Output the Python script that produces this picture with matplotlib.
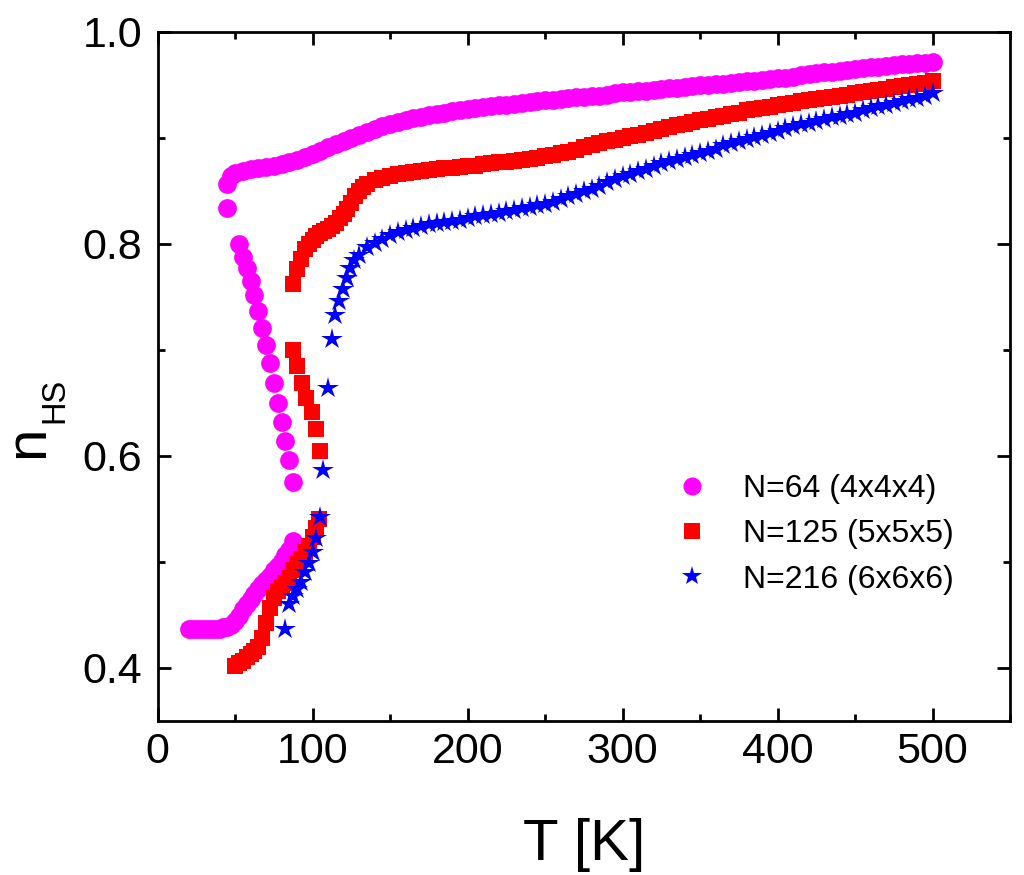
import matplotlib
matplotlib.use("Agg")
import matplotlib.pyplot as plt
from matplotlib.ticker import MultipleLocator, FormatStrFormatter

plt.rcParams['font.family'] = ['Liberation Sans', 'DejaVu Sans']

# ---------------- data ----------------
labels = ["N=64 (4x4x4)", "N=125 (5x5x5)", "N=216 (6x6x6)"]

# N=64
t64 = [20, 22.5, 25, 27.5, 30, 32.5, 35, 37.5, 40, 42.5, 45, 47.5, 50, 52.5, 55, 57.5,
       60, 62.5, 65, 67.5, 70, 72.5, 75, 77.5, 80, 82.5, 85, 87.5,
       45, 45, 52.5, 55, 57.5, 60, 62.5, 65, 67.5, 70, 72.5, 75, 77.5, 80, 82.5, 85, 87.5,
       47.5, 50, 55, 60, 65, 70, 75, 80, 85, 90, 95, 100, 105, 110, 115, 120, 125, 130,
       135, 140, 145, 150, 155, 160, 165, 170, 175, 180, 185, 190, 195, 200, 205, 210,
       215, 220, 225, 230, 235, 240, 245, 250, 255, 260, 265, 270, 275, 280, 285, 290,
       295, 300, 305, 310, 315, 320, 325, 330, 335, 340, 345, 350, 355, 360, 365, 370,
       375, 380, 385, 390, 395, 400, 405, 410, 415, 420, 425, 430, 435, 440, 445, 450,
       455, 460, 465, 470, 475, 480, 485, 490, 495, 500]
n64 = [0.437, 0.437, 0.437, 0.437, 0.437, 0.437, 0.437, 0.437, 0.437, 0.438, 0.438, 0.440,
       0.444, 0.449, 0.455, 0.460, 0.465, 0.470, 0.474, 0.479, 0.483, 0.487, 0.492, 0.496,
       0.501, 0.506, 0.511, 0.520,
       0.857, 0.834, 0.800, 0.788, 0.777, 0.765, 0.752, 0.737, 0.721, 0.705, 0.688, 0.669,
       0.650, 0.632, 0.614, 0.596, 0.575,
       0.864, 0.867, 0.869, 0.871, 0.872, 0.873, 0.874, 0.875, 0.877, 0.879, 0.882, 0.885,
       0.888, 0.891, 0.894, 0.897, 0.900, 0.903, 0.906, 0.908, 0.911, 0.913, 0.915, 0.917,
       0.919, 0.920, 0.922, 0.923, 0.924, 0.925, 0.926, 0.927, 0.928, 0.929, 0.930, 0.931,
       0.931, 0.932, 0.933, 0.934, 0.935, 0.936, 0.936, 0.937, 0.938, 0.939, 0.939, 0.940,
       0.940, 0.941, 0.942, 0.943, 0.943, 0.944, 0.944, 0.945, 0.946, 0.947, 0.947, 0.948,
       0.949, 0.950, 0.950, 0.951, 0.951, 0.952, 0.953, 0.954, 0.954, 0.955, 0.956, 0.957,
       0.957, 0.958, 0.959, 0.960, 0.961, 0.962, 0.962, 0.963, 0.964, 0.965, 0.966, 0.967,
       0.967, 0.968, 0.969, 0.970, 0.970, 0.971, 0.971, 0.972]

# N=125
t125 = [50, 52.5, 55, 57.5, 60, 62.5, 65, 67.5, 70, 72.5, 75, 77.5, 80, 82.5, 85, 87.5,
        90, 92.5, 95, 97.5, 100, 102.5, 104,
        87.5, 87.5, 90, 93, 96, 99.5, 102, 105,
        90, 92.5, 95, 97.5, 100, 102.5, 105, 107.5, 110, 112.5, 115, 117.5, 120, 122.5,
        125, 127.5, 130, 132.5, 135, 140, 145, 150, 155, 160, 165, 170, 175, 180, 185,
        190, 195, 200, 205, 210, 215, 220, 225, 230, 235, 240, 245, 250, 255, 260, 265,
        270, 275, 280, 285, 290, 295, 300, 305, 310, 315, 320, 325, 330, 335, 340, 345,
        350, 355, 360, 365, 370, 375, 380, 385, 390, 395, 400, 405, 410, 415, 420, 425,
        430, 435, 440, 445, 450, 455, 460, 465, 470, 475, 480, 485, 490, 495, 500]
n125 = [0.402, 0.404, 0.406, 0.410, 0.413, 0.416, 0.420, 0.428, 0.442, 0.456, 0.466,
        0.472, 0.476, 0.480, 0.485, 0.492, 0.498, 0.503, 0.509, 0.515, 0.523, 0.532, 0.540,
        0.762, 0.700, 0.685, 0.669, 0.655, 0.641, 0.625, 0.605,
        0.776, 0.786, 0.795, 0.800, 0.804, 0.807, 0.810, 0.812, 0.814, 0.817, 0.820, 0.824,
        0.828, 0.833, 0.839, 0.845, 0.850, 0.854, 0.857, 0.860, 0.862, 0.864, 0.866,
        0.867, 0.868, 0.869, 0.870, 0.871, 0.872, 0.872, 0.873, 0.874, 0.874, 0.875,
        0.876, 0.877, 0.877, 0.878, 0.879, 0.880, 0.881, 0.883, 0.884, 0.886, 0.887,
        0.889, 0.891, 0.893, 0.895, 0.897, 0.898, 0.900, 0.902, 0.903, 0.905, 0.907,
        0.908, 0.910, 0.912, 0.913, 0.915, 0.917, 0.918, 0.920, 0.921, 0.923, 0.924,
        0.926, 0.927, 0.928, 0.929, 0.931, 0.932, 0.933, 0.935, 0.936, 0.937, 0.938,
        0.939, 0.940, 0.941, 0.942, 0.943, 0.944, 0.945, 0.946, 0.948, 0.949, 0.950,
        0.951, 0.952, 0.954]

# N=216
t216 = [82.5, 85, 87.5, 90, 92.5, 95, 97.5, 100, 102.5, 105,
        107, 110, 112.5, 114.5, 117, 119.5, 122, 124.5, 127, 130, 135, 140, 145, 150,
        155, 160, 165, 170, 175, 180, 185, 190, 195, 200, 205, 210, 215, 220, 225, 230,
        235, 240, 245, 250, 255, 260, 265, 270, 275, 280, 285, 290, 295, 300, 305, 310,
        315, 320, 325, 330, 335, 340, 345, 350, 355, 360, 365, 370, 375, 380, 385, 390,
        395, 400, 405, 410, 415, 420, 425, 430, 435, 440, 445, 450, 455, 460, 465, 470,
        475, 480, 485, 490, 495, 500]
n216 = [0.437, 0.460, 0.468, 0.474, 0.481, 0.490, 0.499, 0.509, 0.522, 0.542,
        0.587, 0.664, 0.710, 0.733, 0.746, 0.757, 0.768, 0.777, 0.785, 0.790, 0.797,
        0.801, 0.805, 0.808, 0.811, 0.813, 0.815, 0.817, 0.819, 0.820, 0.821, 0.822,
        0.823, 0.824, 0.826, 0.827, 0.828, 0.829, 0.831, 0.832, 0.834, 0.835, 0.837,
        0.838, 0.840, 0.842, 0.845, 0.847, 0.850, 0.852, 0.855, 0.858, 0.861, 0.864,
        0.866, 0.869, 0.871, 0.874, 0.876, 0.878, 0.880, 0.882, 0.884, 0.886, 0.888,
        0.890, 0.893, 0.895, 0.897, 0.899, 0.901, 0.903, 0.905, 0.907, 0.909, 0.911,
        0.913, 0.914, 0.916, 0.918, 0.920, 0.921, 0.923, 0.924, 0.926, 0.928, 0.930,
        0.931, 0.933, 0.935, 0.937, 0.938, 0.940, 0.942]

colors = ["#FF00FF", "#FF0000", "#0000FF"]
markers = ["o", "s", "*"]
msizes = [13.5, 12, 16]

# ---------------- figure ----------------
W, H = 1024, 875
fig = plt.figure(figsize=(W / 100, H / 100), dpi=100)
ax = fig.add_axes([157.5 / W, 1 - 720.7 / H, (1010 - 157.5) / W, (720.7 - 32) / H])

series = [(t64, n64), (t125, n125), (t216, n216)]
for (t, n), c, m, ms, lab in zip(series, colors, markers, msizes, labels):
    ax.plot(t, n, linestyle="none", marker=m, markersize=ms, color=c,
            markeredgewidth=0, label=lab)

ax.set_xlim(0, 550)
ax.set_ylim(0.35, 1.0)
ax.xaxis.set_major_locator(MultipleLocator(100))
ax.xaxis.set_minor_locator(MultipleLocator(50))
ax.yaxis.set_major_locator(MultipleLocator(0.2))
ax.yaxis.set_minor_locator(MultipleLocator(0.1))
ax.yaxis.set_major_formatter(FormatStrFormatter("%.1f"))

for s in ax.spines.values():
    s.set_linewidth(2)
ax.tick_params(which="both", direction="in", top=True, right=True, width=2)
ax.tick_params(which="major", length=9.5)
ax.tick_params(which="minor", length=5)
ax.tick_params(axis="x", which="major", labelsize=31, pad=8)
ax.tick_params(axis="y", which="major", labelsize=31, pad=11)

# axis labels
fig.text(584 / W, 1 - 860 / H, "T [K]", fontsize=42, ha="center", va="baseline")
fig.text(43 / W, 1 - 458 / H, "n", fontsize=42, rotation=90,
         rotation_mode="anchor", ha="left", va="baseline")
fig.text(63 / W, 1 - 423 / H, "HS", fontsize=23.5, rotation=90,
         rotation_mode="anchor", ha="left", va="baseline")

leg = ax.legend(loc="upper left", bbox_to_anchor=(676 / W, 1 - 474 / H),
                bbox_transform=fig.transFigure, frameon=False, fontsize=23,
                handlelength=1.0, handletextpad=1.1, borderpad=0, borderaxespad=0,
                labelspacing=0.48, numpoints=1, markerscale=1.0)
for h, s in zip(leg.legend_handles, [13, 11, 15]):
    h.set_markersize(s)

fig.savefig("out.png", dpi=100)
